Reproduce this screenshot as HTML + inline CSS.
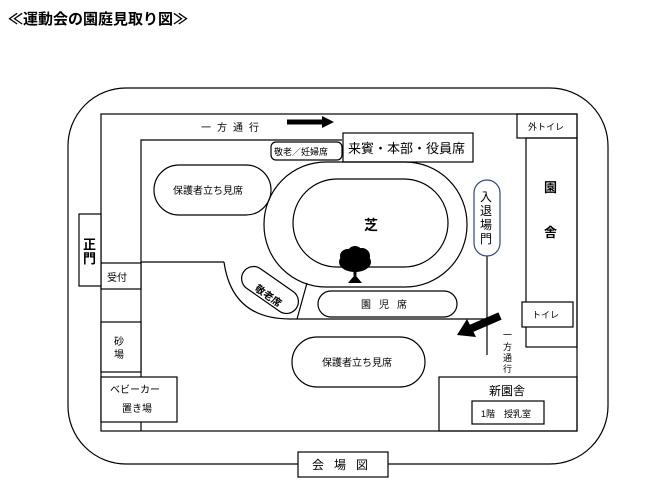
<!DOCTYPE html>
<html><head><meta charset="utf-8"><style>
body{margin:0;background:#fff;width:654px;height:488px;overflow:hidden}
svg text{font-family:"Liberation Sans","Noto Sans CJK JP",sans-serif;fill:#000}
</style></head><body>
<svg width="654" height="488" viewBox="0 0 654 488" xmlns="http://www.w3.org/2000/svg">
<text x="8" y="24" font-size="15" font-weight="bold">≪運動会の園庭見取り図≫</text>
<g fill="none" stroke="#000" stroke-width="1.2">
<rect x="68" y="88" width="540" height="376" rx="58"/>
<rect x="101" y="114" width="476" height="317"/>
<polyline points="342,140 141,140 141,431"/>
<line x1="141" y1="262" x2="224" y2="262"/>
<path d="M224,262 Q232,319 290,319 L487,319"/>
<line x1="307" y1="283" x2="297" y2="319"/>
<line x1="487" y1="256" x2="487" y2="355"/>
<rect x="101" y="263" width="40" height="26" fill="#fff"/>
<rect x="101" y="322" width="40" height="50" fill="#fff"/>
<rect x="101" y="377" width="76" height="45" fill="#fff"/>
<rect x="79" y="214" width="22" height="72" fill="#fff"/>
<rect x="343" y="133" width="130" height="29" fill="#fff"/>
<rect x="271" y="142" width="71" height="18" rx="5"/>
<rect x="517" y="114" width="60" height="24"/>
<rect x="526" y="138" width="51" height="209"/>
<rect x="522" y="302" width="51" height="25" fill="#fff"/>
<rect x="474" y="180" width="26" height="76" rx="13" stroke="#334a7a"/>
<rect x="264" y="162" width="203" height="125" rx="62"/>
<rect x="293" y="179" width="155" height="88" rx="44"/>
<rect x="154" y="165" width="117" height="50" rx="25"/>
<rect x="292" y="337" width="133" height="50" rx="25"/>
<rect x="318" y="291" width="139" height="26" rx="13"/>
<rect x="238" y="278" width="64" height="24" rx="12" transform="rotate(35 270 290)"/>
<rect x="439" y="377" width="138" height="54"/>
<rect x="472" y="401" width="72" height="23"/>
<rect x="298" y="452" width="90" height="25" fill="#fff"/>
</g>
<line x1="287" y1="122" x2="324" y2="122" stroke="#000" stroke-width="5"/>
<polygon points="322,116 334,122 322,128" fill="#000"/>
<line x1="500" y1="316" x2="470" y2="329" stroke="#000" stroke-width="8"/>
<polygon points="457,335 467,319 476,337" fill="#000"/>
<g fill="#000">
<ellipse cx="355" cy="262" rx="16" ry="10"/>
<ellipse cx="348" cy="256" rx="8" ry="7"/>
<ellipse cx="362" cy="256" rx="8" ry="8"/>
<ellipse cx="355" cy="252" rx="7" ry="6"/>
<rect x="353.5" y="268" width="3" height="13"/>
<polygon points="348,283 362,283 357,277 353,277"/>
</g>
<g font-size="10">
<text x="201" y="131" letter-spacing="6">一方通行</text>
<text x="274" y="155" font-size="9">敬老／妊婦席</text>
<text x="348" y="153" font-size="13">来賓・本部・役員席</text>
<text x="528" y="130" font-size="9">外トイレ</text>
<text x="532" y="318" font-size="9">トイレ</text>
<text x="544" y="192" font-size="13" font-weight="bold">園</text>
<text x="544" y="237" font-size="13" font-weight="bold">舎</text>
<text x="480" y="201" font-size="12">入</text>
<text x="480" y="215" font-size="12">退</text>
<text x="480" y="229" font-size="12">場</text>
<text x="480" y="243" font-size="12">門</text>
<text x="364" y="230" font-size="14" font-weight="bold">芝</text>
<text x="173" y="194">保護者立ち見席</text>
<text x="322" y="366">保護者立ち見席</text>
<text x="361" y="308" letter-spacing="8">園児席</text>
<text x="0" y="0" transform="translate(254,290) rotate(35)" font-weight="bold">敬老席</text>
<text x="83" y="249" font-size="13" font-weight="bold">正</text>
<text x="83" y="263" font-size="13" font-weight="bold">門</text>
<text x="107" y="281">受付</text>
<text x="114" y="345">砂</text>
<text x="114" y="358">場</text>
<text x="110" y="393">ベビーカー</text>
<text x="122" y="412">置き場</text>
<text x="489" y="395" font-size="12">新園舎</text>
<text x="481" y="417" font-size="9">1階　授乳室</text>
<text x="312" y="469" font-size="12" letter-spacing="10">会場図</text>
<text x="503" y="338" font-size="9">一</text>
<text x="503" y="350" font-size="9">方</text>
<text x="503" y="361" font-size="9">通</text>
<text x="503" y="372" font-size="9">行</text>
</g>
</svg>
</body></html>
